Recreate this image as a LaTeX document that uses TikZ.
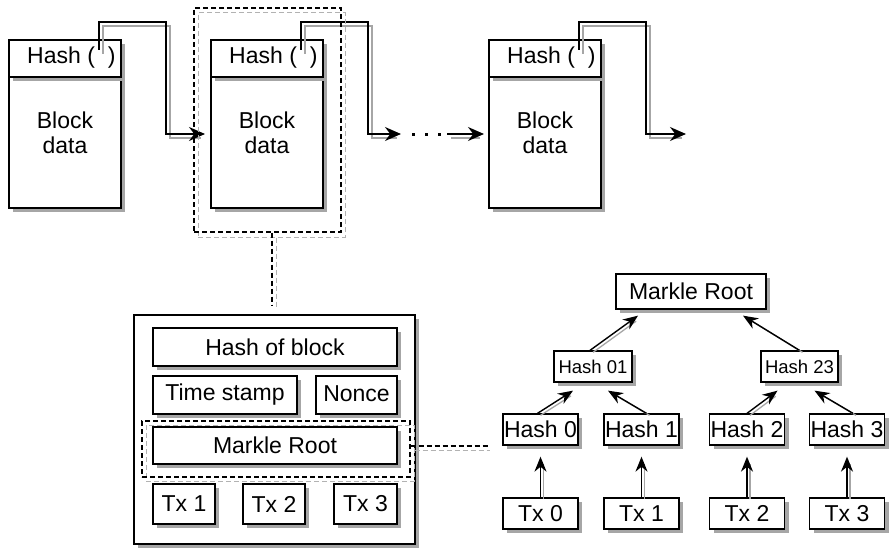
\documentclass[tikz,border=0pt]{standalone}
\usepackage{fontspec}
\setmainfont{Liberation Sans}
\usetikzlibrary{shadows,arrows.meta}
\begin{document}
\begin{tikzpicture}[x=1pt,y=-1pt,
  shd/.style={drop shadow={shadow xshift=4pt,shadow yshift=-4pt,fill=black!35,opacity=1}},
  box/.style={draw=black,line width=1.3pt,fill=white,rectangle,inner sep=0pt,shd,
    font=\fontsize{23}{27}\selectfont},
  smallbox/.style={box,font=\fontsize{18.5}{22}\selectfont},
  lbl/.style={inner sep=0pt,font=\fontsize{23}{27}\selectfont,align=center},
  arr/.style={draw=black,line width=1.4pt,-{Stealth[length=16pt,width=14pt]}},
  arrshd/.style={draw=black!35,line width=1.3pt,transform canvas={xshift=4pt,yshift=-4pt}},
  tarr/.style={draw=black,line width=1.4pt,-{Stealth[length=15pt,width=12pt]}},
  tshd/.style={draw=black!35,line width=1.3pt,transform canvas={xshift=3pt,yshift=-2pt}},
  dsh/.style={draw=black,line width=1.3pt,dash pattern=on 5pt off 3pt},
  dshg/.style={draw=black!30,line width=1pt,dash pattern=on 5pt off 3pt},
]
\useasboundingbox (0,0) rectangle (889,551);

% ---- top chain of blocks ----
\foreach \i/\dx in {1/0,2/202,3/480}{
  \node[box,minimum width=112pt,minimum height=168pt] (b\i) at (65+\dx,124) {};
  \node[box,minimum width=112pt,minimum height=37pt] (h\i) at (65+\dx,58.5) {};
  \node[lbl,anchor=west] (ht\i) at (27+\dx,58) {Hash (\hspace{13pt})};
  \node[lbl] (bt\i) at (65+\dx,133) {Block\\[-2pt]data};
  \coordinate (p\i) at (99+\dx,50);
  \coordinate (k\i) at (166+\dx,22);
}
\coordinate (t1) at (205,134);
\coordinate (t2) at (401,134);
\coordinate (t3) at (686,134);
\coordinate (d1) at (412,134);
\coordinate (d2) at (442,134);
\coordinate (s1) at (447,134);
\coordinate (s2) at (484,134);

\foreach \i in {1,2,3}{
  \draw[arrshd,shorten >=8pt] (p\i) |- (k\i) |- (t\i);
  \draw[arr] (p\i) |- (k\i) |- (t\i);
}
\draw[black,line width=3pt,dash pattern=on 3pt off 10pt] (d1) -- (d2);
\draw[arrshd,shorten >=8pt] (s1) -- (s2);
\draw[arr] (s1) -- (s2);

% dashed selection around block 2
\node[dshg,rectangle,minimum width=147pt,minimum height=224pt,inner sep=0pt] (selg) at (271.5,125) {};
\node[dsh,rectangle,minimum width=147pt,minimum height=224pt,inner sep=0pt] (sel) at (267.5,120) {};
\coordinate (vend) at (272,305);
\coordinate (vendg) at (276,309);
\draw[dshg] (selg.south -| vendg) -- (vendg);
\draw[dsh] (sel.south -| vend) -- (vend);

% ---- block detail panel ----
\node[box,minimum width=281pt,minimum height=229pt] (panel) at (274.5,429.5) {};
\node[box,minimum width=244pt,minimum height=38pt] (hob) at (275,347) {Hash of block};
\node[box,minimum width=144pt,minimum height=38pt] (ts) at (225,395) {Time stamp};
\node[box,minimum width=81pt,minimum height=38pt] (nonce) at (356.5,395) {\raisebox{2pt}{Nonce}};
\node[dshg,rectangle,minimum width=268pt,minimum height=56pt,inner sep=0pt] (mrselg) at (280,453) {};
\node[dsh,rectangle,minimum width=268pt,minimum height=56pt,inner sep=0pt] (mrsel) at (276,449) {};
\node[box,minimum width=244pt,minimum height=37pt] (mr) at (275,445.5) {Markle Root};
\node[box,minimum width=62pt,minimum height=40pt] (ptx1) at (184,504) {Tx 1};
\node[box,minimum width=62pt,minimum height=40pt] (ptx2) at (274,504) {Tx 2};
\node[box,minimum width=63pt,minimum height=40pt] (ptx3) at (365.5,504) {Tx 3};
\coordinate (lend) at (490,446);
\coordinate (lendg) at (490,450);
\draw[dshg] (mrselg.east |- lendg) -- (lendg);
\draw[dsh] (mrsel.east |- lend) -- (lend);

% ---- Merkle tree ----
\node[box,minimum width=150pt,minimum height=35pt] (root) at (691,291.5) {Markle Root};
\node[smallbox,minimum width=78pt,minimum height=31pt] (h01) at (593,366.5) {Hash 01};
\node[smallbox,minimum width=77pt,minimum height=31pt] (h23) at (799.5,366.5) {Hash 23};
\foreach \i/\x in {0/540.5,1/641.5,2/747,3/847}{
  \node[box,minimum width=75pt,minimum height=31pt] (hh\i) at (\x,429.5) {Hash \i};
  \node[box,minimum width=75pt,minimum height=31pt] (tx\i) at (\x,513.5) {Tx \i};
  \draw[tshd,shorten >=16pt] (tx\i.north) -- (hh\i.south);
  \draw[tarr,shorten >=11pt] (tx\i.north) -- (hh\i.south);
}
\coordinate (a0) at ([xshift=-20pt,yshift=-8pt]h01.south);
\coordinate (a1) at ([xshift=15pt,yshift=-8pt]h01.south);
\coordinate (a2) at ([xshift=-22pt,yshift=-8pt]h23.south);
\coordinate (a3) at ([xshift=15pt,yshift=-8pt]h23.south);
\coordinate (r0) at ([xshift=-53pt,yshift=-6pt]root.south);
\coordinate (r1) at ([xshift=52pt,yshift=-6pt]root.south);
\coordinate (f0) at ([xshift=-3pt]hh0.north);
\coordinate (f1) at ([xshift=5pt]hh1.north);
\coordinate (f2) at (hh2.north);
\coordinate (f3) at ([xshift=6pt]hh3.north);
\coordinate (g0) at ([xshift=-3pt]h01.north);
\coordinate (g1) at (h23.north);
\draw[tshd,shorten >=6pt] (f0) -- (a0);
\draw[tarr] (f0) -- (a0);
\draw[tshd,shorten >=6pt] (f1) -- (a1);
\draw[tarr] (f1) -- (a1);
\draw[tshd,shorten >=6pt] (f2) -- (a2);
\draw[tarr] (f2) -- (a2);
\draw[tshd,shorten >=6pt] (f3) -- (a3);
\draw[tarr] (f3) -- (a3);
\draw[tshd,shorten >=6pt] (g0) -- (r0);
\draw[tarr] (g0) -- (r0);
\draw[tshd,shorten >=6pt] (g1) -- (r1);
\draw[tarr] (g1) -- (r1);
\end{tikzpicture}
\end{document}
